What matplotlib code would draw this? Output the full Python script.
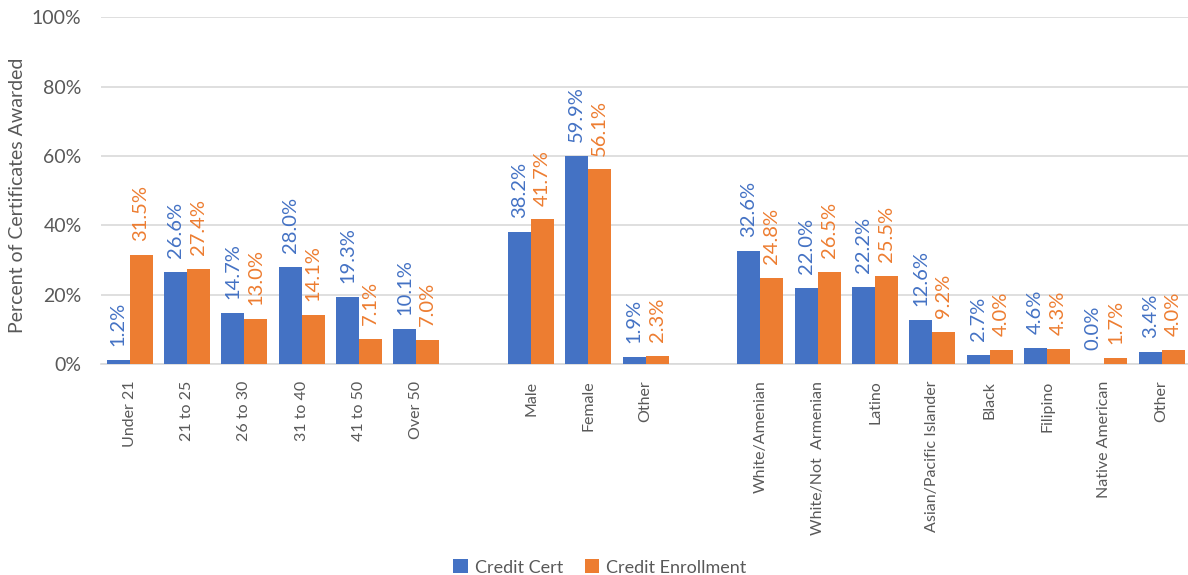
import numpy as np
import matplotlib.pyplot as plt
from matplotlib.ticker import FuncFormatter

plt.rcParams['font.family'] = ['Lato', 'DejaVu Sans']

# blank entries are the spacer slots between groups
categories = ['Under 21', '21 to 25', '26 to 30', '31 to 40', '41 to 50', 'Over 50', '',
              'Male', 'Female', 'Other', '',
              'White/Amenian', 'White/Not  Armenian', 'Latino', 'Asian/Pacific Islander',
              'Black', 'Filipino', 'Native American', 'Other']
credit_cert = [1.2, 26.6, 14.7, 28.0, 19.3, 10.1, None,
               38.2, 59.9, 1.9, None,
               32.6, 22.0, 22.2, 12.6, 2.7, 4.6, 0.0, 3.4]
credit_enroll = [31.5, 27.4, 13.0, 14.1, 7.1, 7.0, None,
                 41.7, 56.1, 2.3, None,
                 24.8, 26.5, 25.5, 9.2, 4.0, 4.3, 1.7, 4.0]

BLUE = '#4472C4'
ORANGE = '#ED7D31'
GREY = '#595959'


def to_arr(vals):
    return np.array([np.nan if v is None else v for v in vals], dtype=float)


def make_labels(vals):
    return ['' if v is None else '%.1f%%' % v for v in vals]


fig = plt.figure(figsize=(11.88, 5.75), dpi=100)
ax = fig.add_axes([0.085, 0.367, 0.917, 0.603])

x = np.arange(len(categories))
w = 0.4
b1 = ax.bar(x - w / 2, to_arr(credit_cert), w, color=BLUE, label='Credit Cert', zorder=3)
b2 = ax.bar(x + w / 2, to_arr(credit_enroll), w, color=ORANGE, label='Credit Enrollment', zorder=3)

ax.bar_label(b1, labels=make_labels(credit_cert), padding=10, rotation=90,
             color=BLUE, fontsize=14.5)
ax.bar_label(b2, labels=make_labels(credit_enroll), padding=10, rotation=90,
             color=ORANGE, fontsize=14.5)

ax.set_xlim(-0.5, len(categories) - 0.5)
ax.set_ylim(0, 100)
ax.set_yticks(np.arange(0, 101, 20))
ax.yaxis.set_major_formatter(FuncFormatter(lambda v, p: '%d%%' % v))
ax.grid(axis='y', color='#D9D9D9', linewidth=1.2, zorder=0)
ax.set_axisbelow(True)

ax.set_xticks(x)
ax.set_xticklabels(categories, rotation=90, fontsize=11.5, color=GREY)
ax.tick_params(axis='x', length=0, pad=12)
ax.tick_params(axis='y', length=0, labelsize=14, colors=GREY, pad=14)
ax.set_ylabel('Percent of Certificates Awarded', fontsize=14, color=GREY)
ax.yaxis.set_label_coords(-0.069, 0.487)

for s in ['top', 'right', 'left']:
    ax.spines[s].set_visible(False)
ax.spines['bottom'].set_color('#D9D9D9')
ax.spines['bottom'].set_linewidth(1.2)

fig.legend(handles=[b1, b2], loc='center', bbox_to_anchor=(0.505, 0.013),
           ncol=2, frameon=False, fontsize=13, handlelength=0.8, handleheight=0.8,
           columnspacing=1.2, handletextpad=0.4, labelcolor=GREY)

fig.savefig('out.png', dpi=100)
